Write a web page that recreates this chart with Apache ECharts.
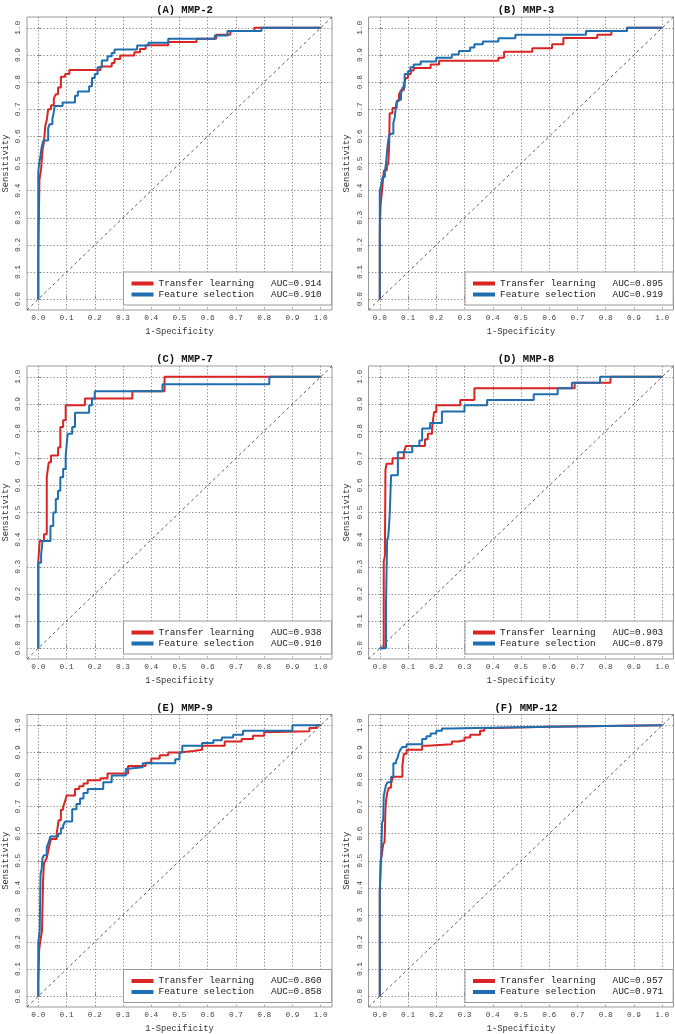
<!DOCTYPE html>
<html><head><meta charset="utf-8">
<script src="https://cdn.jsdelivr.net/npm/echarts@6/dist/echarts.min.js"></script>
<style>html,body{margin:0;padding:0;background:#fff}#c{width:675px;height:1034px}</style>
</head><body><div id="c"></div>
<script>
// ---------------- data ----------------
const panelTitles = ['(A) MMP-2', '(B) MMP-3', '(C) MMP-7', '(D) MMP-8', '(E) MMP-9', '(F) MMP-12'];
const seriesNames = ['Transfer learning', 'Feature selection'];
const aucTransfer = ['0.914', '0.895', '0.938', '0.903', '0.860', '0.957'];
const aucFeature  = ['0.910', '0.919', '0.910', '0.879', '0.858', '0.971'];
const tickValues = [0, 0.1, 0.2, 0.3, 0.4, 0.5, 0.6, 0.7, 0.8, 0.9, 1.0];
const tickLabels = ['0.0', '0.1', '0.2', '0.3', '0.4', '0.5', '0.6', '0.7', '0.8', '0.9', '1.0'];
const axisRange = [-0.04, 1.04];
const xAxisTitle = '1-Specificity';
const yAxisTitle = 'Sensitivity';

// ROC curves: [1-specificity, sensitivity]
const rocTransferA = [[0,0],[0,0.17],[0.004,0.17],[0.004,0.44],[0.01,0.44],[0.01,0.48],[0.015,0.48],[0.015,0.55],[0.02,0.55],[0.02,0.58],[0.025,0.58],[0.025,0.64],[0.03,0.64],[0.03,0.66],[0.035,0.66],[0.035,0.7],[0.045,0.7],[0.045,0.715],[0.055,0.715],[0.055,0.74],[0.062,0.74],[0.062,0.755],[0.07,0.755],[0.07,0.78],[0.08,0.78],[0.08,0.82],[0.095,0.82],[0.095,0.83],[0.11,0.83],[0.11,0.845],[0.22,0.845],[0.22,0.858],[0.26,0.858],[0.26,0.87],[0.27,0.87],[0.27,0.885],[0.29,0.885],[0.29,0.898],[0.34,0.898],[0.34,0.91],[0.36,0.91],[0.36,0.922],[0.38,0.922],[0.38,0.936],[0.46,0.936],[0.46,0.948],[0.56,0.948],[0.56,0.96],[0.63,0.96],[0.63,0.975],[0.68,0.975],[0.68,0.988],[0.765,0.988],[0.765,1],[1,1]];
const rocFeatureA = [[0,0],[0,0.47],[0.003,0.47],[0.003,0.5],[0.008,0.5],[0.008,0.53],[0.012,0.53],[0.012,0.56],[0.018,0.56],[0.018,0.585],[0.035,0.585],[0.035,0.63],[0.04,0.63],[0.04,0.645],[0.05,0.645],[0.05,0.665],[0.055,0.665],[0.055,0.69],[0.058,0.69],[0.058,0.712],[0.086,0.712],[0.086,0.725],[0.13,0.725],[0.13,0.75],[0.14,0.75],[0.14,0.765],[0.18,0.765],[0.18,0.785],[0.19,0.785],[0.19,0.815],[0.2,0.815],[0.2,0.83],[0.21,0.83],[0.21,0.855],[0.225,0.855],[0.225,0.88],[0.245,0.88],[0.245,0.895],[0.26,0.895],[0.26,0.907],[0.27,0.907],[0.27,0.92],[0.35,0.92],[0.35,0.935],[0.39,0.935],[0.39,0.945],[0.46,0.945],[0.46,0.96],[0.625,0.96],[0.625,0.972],[0.67,0.972],[0.67,0.988],[0.79,0.988],[0.79,1],[1,1]];
const rocTransferB = [[0,0],[0,0.26],[0.003,0.26],[0.003,0.35],[0.008,0.35],[0.008,0.4],[0.012,0.4],[0.012,0.45],[0.015,0.45],[0.015,0.475],[0.025,0.475],[0.025,0.49],[0.03,0.49],[0.03,0.5],[0.033,0.5],[0.033,0.56],[0.035,0.56],[0.035,0.685],[0.045,0.685],[0.045,0.705],[0.06,0.705],[0.06,0.73],[0.068,0.73],[0.068,0.755],[0.075,0.755],[0.075,0.77],[0.085,0.77],[0.085,0.79],[0.092,0.79],[0.092,0.815],[0.1,0.815],[0.1,0.83],[0.11,0.83],[0.11,0.843],[0.12,0.843],[0.12,0.852],[0.18,0.852],[0.18,0.865],[0.21,0.865],[0.21,0.879],[0.42,0.879],[0.42,0.89],[0.44,0.89],[0.44,0.912],[0.54,0.912],[0.54,0.925],[0.61,0.925],[0.61,0.94],[0.65,0.94],[0.65,0.963],[0.77,0.963],[0.77,0.975],[0.82,0.975],[0.82,0.988],[0.875,0.988],[0.875,1],[1,1]];
const rocFeatureB = [[0,0],[0,0.4],[0.005,0.4],[0.005,0.42],[0.01,0.42],[0.01,0.45],[0.018,0.45],[0.018,0.47],[0.022,0.47],[0.022,0.5],[0.027,0.5],[0.027,0.56],[0.032,0.56],[0.032,0.6],[0.038,0.6],[0.038,0.61],[0.048,0.61],[0.048,0.65],[0.053,0.65],[0.053,0.67],[0.058,0.67],[0.058,0.72],[0.065,0.72],[0.065,0.735],[0.075,0.735],[0.075,0.755],[0.08,0.755],[0.08,0.78],[0.088,0.78],[0.088,0.83],[0.1,0.83],[0.1,0.84],[0.108,0.84],[0.108,0.855],[0.12,0.855],[0.12,0.865],[0.145,0.865],[0.145,0.876],[0.2,0.876],[0.2,0.89],[0.255,0.89],[0.255,0.902],[0.28,0.902],[0.28,0.915],[0.32,0.915],[0.32,0.928],[0.335,0.928],[0.335,0.94],[0.365,0.94],[0.365,0.95],[0.42,0.95],[0.42,0.962],[0.48,0.962],[0.48,0.975],[0.73,0.975],[0.73,0.988],[0.875,0.988],[0.875,1],[1,1]];
const rocTransferC = [[0,0],[0,0.32],[0.005,0.32],[0.005,0.395],[0.02,0.395],[0.02,0.42],[0.03,0.42],[0.03,0.63],[0.037,0.63],[0.037,0.685],[0.045,0.685],[0.045,0.71],[0.07,0.71],[0.07,0.74],[0.078,0.74],[0.078,0.815],[0.088,0.815],[0.088,0.84],[0.097,0.84],[0.097,0.895],[0.165,0.895],[0.165,0.92],[0.333,0.92],[0.333,0.947],[0.447,0.947],[0.447,1],[1,1]];
const rocFeatureC = [[0,0],[0,0.315],[0.01,0.315],[0.01,0.345],[0.015,0.345],[0.015,0.395],[0.043,0.395],[0.043,0.45],[0.053,0.45],[0.053,0.5],[0.062,0.5],[0.062,0.55],[0.07,0.55],[0.07,0.58],[0.078,0.58],[0.078,0.63],[0.088,0.63],[0.088,0.66],[0.097,0.66],[0.097,0.71],[0.104,0.71],[0.104,0.79],[0.12,0.79],[0.12,0.815],[0.13,0.815],[0.13,0.868],[0.18,0.868],[0.18,0.895],[0.19,0.895],[0.19,0.92],[0.2,0.92],[0.2,0.947],[0.44,0.947],[0.44,0.973],[0.818,0.973],[0.818,1],[1,1]];
const rocTransferD = [[0,0],[0.014,0],[0.014,0.32],[0.018,0.32],[0.018,0.34],[0.02,0.34],[0.02,0.655],[0.024,0.655],[0.024,0.68],[0.045,0.68],[0.045,0.7],[0.085,0.7],[0.085,0.72],[0.092,0.72],[0.092,0.745],[0.16,0.745],[0.16,0.77],[0.17,0.77],[0.17,0.79],[0.185,0.79],[0.185,0.81],[0.192,0.81],[0.192,0.87],[0.2,0.87],[0.2,0.895],[0.285,0.895],[0.285,0.915],[0.335,0.915],[0.335,0.958],[0.69,0.958],[0.69,0.978],[0.817,0.978],[0.817,1],[1,1]];
const rocFeatureD = [[0,0],[0.022,0],[0.022,0.17],[0.026,0.17],[0.026,0.4],[0.03,0.4],[0.03,0.41],[0.035,0.41],[0.035,0.49],[0.04,0.49],[0.04,0.637],[0.064,0.637],[0.064,0.722],[0.115,0.722],[0.115,0.745],[0.14,0.745],[0.14,0.765],[0.15,0.765],[0.15,0.81],[0.178,0.81],[0.178,0.83],[0.22,0.83],[0.22,0.872],[0.3,0.872],[0.3,0.895],[0.38,0.895],[0.38,0.915],[0.545,0.915],[0.545,0.936],[0.63,0.936],[0.63,0.958],[0.68,0.958],[0.68,0.978],[0.78,0.978],[0.78,1],[1,1]];
const rocTransferE = [[0,0],[0,0.05],[0.003,0.05],[0.003,0.17],[0.008,0.17],[0.008,0.21],[0.013,0.21],[0.013,0.24],[0.017,0.24],[0.017,0.43],[0.02,0.43],[0.02,0.49],[0.025,0.49],[0.025,0.5],[0.03,0.5],[0.03,0.51],[0.035,0.51],[0.035,0.535],[0.04,0.535],[0.04,0.56],[0.045,0.56],[0.045,0.58],[0.065,0.58],[0.065,0.6],[0.072,0.6],[0.072,0.65],[0.08,0.65],[0.08,0.688],[0.088,0.688],[0.088,0.7],[0.095,0.7],[0.095,0.72],[0.1,0.72],[0.1,0.741],[0.13,0.741],[0.13,0.765],[0.145,0.765],[0.145,0.775],[0.16,0.775],[0.16,0.785],[0.175,0.785],[0.175,0.797],[0.22,0.797],[0.22,0.805],[0.245,0.805],[0.245,0.822],[0.318,0.822],[0.318,0.85],[0.38,0.85],[0.38,0.862],[0.4,0.862],[0.4,0.878],[0.43,0.878],[0.43,0.89],[0.46,0.89],[0.46,0.9],[0.5,0.9],[0.5,0.905],[0.55,0.905],[0.55,0.91],[0.58,0.91],[0.58,0.925],[0.66,0.925],[0.66,0.94],[0.72,0.94],[0.72,0.95],[0.76,0.95],[0.76,0.962],[0.8,0.962],[0.8,0.975],[0.84,0.975],[0.84,0.978],[0.96,0.978],[0.96,0.99],[0.985,0.99],[0.985,1],[1,1]];
const rocFeatureE = [[0,0],[0,0.2],[0.005,0.2],[0.005,0.24],[0.008,0.24],[0.008,0.45],[0.012,0.45],[0.012,0.47],[0.015,0.47],[0.015,0.51],[0.02,0.51],[0.02,0.52],[0.03,0.52],[0.03,0.55],[0.037,0.55],[0.037,0.57],[0.043,0.57],[0.043,0.59],[0.07,0.59],[0.07,0.6],[0.08,0.6],[0.08,0.62],[0.088,0.62],[0.088,0.63],[0.095,0.63],[0.095,0.645],[0.12,0.645],[0.12,0.69],[0.135,0.69],[0.135,0.71],[0.148,0.71],[0.148,0.73],[0.16,0.73],[0.16,0.75],[0.175,0.75],[0.175,0.765],[0.23,0.765],[0.23,0.79],[0.26,0.79],[0.26,0.815],[0.31,0.815],[0.31,0.84],[0.318,0.84],[0.318,0.845],[0.37,0.845],[0.37,0.86],[0.485,0.86],[0.485,0.875],[0.5,0.875],[0.5,0.9],[0.51,0.9],[0.51,0.925],[0.58,0.925],[0.58,0.935],[0.62,0.935],[0.62,0.945],[0.65,0.945],[0.65,0.955],[0.69,0.955],[0.69,0.965],[0.725,0.965],[0.725,0.98],[0.9,0.98],[0.9,1],[1,1]];
const rocTransferF = [[0,0],[0,0.39],[0.004,0.39],[0.004,0.5],[0.008,0.5],[0.008,0.53],[0.012,0.53],[0.012,0.56],[0.017,0.56],[0.017,0.57],[0.02,0.57],[0.02,0.69],[0.022,0.69],[0.022,0.72],[0.026,0.72],[0.026,0.75],[0.032,0.75],[0.032,0.77],[0.04,0.77],[0.04,0.785],[0.047,0.785],[0.047,0.81],[0.08,0.81],[0.08,0.85],[0.085,0.85],[0.085,0.895],[0.095,0.895],[0.095,0.91],[0.15,0.91],[0.15,0.925],[0.17,0.925],[0.17,0.93],[0.255,0.93],[0.255,0.94],[0.28,0.94],[0.28,0.945],[0.3,0.945],[0.3,0.955],[0.32,0.955],[0.32,0.965],[0.355,0.965],[0.355,0.98],[0.37,0.98],[0.37,0.99],[0.41,0.99],[0.41,0.995],[0.6,0.995],[0.6,1],[1,1]];
const rocFeatureF = [[0,0],[0,0.38],[0.003,0.38],[0.003,0.5],[0.005,0.5],[0.005,0.52],[0.008,0.52],[0.008,0.64],[0.012,0.64],[0.012,0.65],[0.014,0.65],[0.014,0.74],[0.018,0.74],[0.018,0.76],[0.022,0.76],[0.022,0.78],[0.028,0.78],[0.028,0.79],[0.04,0.79],[0.04,0.81],[0.048,0.81],[0.048,0.86],[0.058,0.86],[0.058,0.87],[0.063,0.87],[0.063,0.88],[0.068,0.88],[0.068,0.9],[0.073,0.9],[0.073,0.91],[0.08,0.91],[0.08,0.92],[0.095,0.92],[0.095,0.93],[0.15,0.93],[0.15,0.95],[0.165,0.95],[0.165,0.96],[0.18,0.96],[0.18,0.97],[0.2,0.97],[0.2,0.98],[0.22,0.98],[0.22,0.988],[0.25,0.988],[0.25,0.99],[0.34,0.99],[0.34,0.995],[0.6,0.995],[0.6,1],[1,1]];

const rocTransfer = [rocTransferA, rocTransferB, rocTransferC, rocTransferD, rocTransferE, rocTransferF];
const rocFeature  = [rocFeatureA, rocFeatureB, rocFeatureC, rocFeatureD, rocFeatureE, rocFeatureF];

// ---------------- layout / style ----------------
const COLORS = ['#d92523', '#1f6eb0'];
const MONO = '"Liberation Mono", "DejaVu Sans Mono", monospace';
const colLeft = [27, 368.5];
const rowTop = [17, 366, 714.5];
const GW = 305, GH = 293;

const grids = [], xAxes = [], yAxes = [], series = [], titles = [], legends = [];
const fmt = v => { const i = tickValues.findIndex(t => Math.abs(t - v) < 1e-9); return i >= 0 ? tickLabels[i] : ''; };

for (let p = 0; p < 6; p++) {
  const left = colLeft[p % 2], top = rowTop[Math.floor(p / 2)];
  grids.push({ left: left, top: top, width: GW, height: GH, show: true, borderColor: '#9a9a9a', borderWidth: 1, backgroundColor: 'transparent', containLabel: false });
  const common = {
    gridIndex: p, type: 'value', min: axisRange[0], max: axisRange[1],
    axisLine: { show: false },
    axisTick: { show: true, inside: true, length: 3, customValues: tickValues, lineStyle: { color: '#888' } },
    splitLine: { show: true, lineStyle: { type: [1.3, 2], color: '#8a8a8a', width: 1 } },
    nameLocation: 'middle',
    nameTextStyle: { fontFamily: MONO, fontSize: 8.8, color: '#333' }
  };
  xAxes.push(Object.assign({}, common, {
    name: xAxisTitle, nameGap: 17,
    axisLabel: { customValues: tickValues, formatter: fmt, fontFamily: MONO, fontSize: 7.8, color: '#444', margin: 4 }
  }));
  yAxes.push(Object.assign({}, common, {
    name: yAxisTitle, nameGap: 17,
    axisLabel: { customValues: tickValues, formatter: fmt, fontFamily: MONO, fontSize: 7.8, color: '#444', margin: 5, rotate: 90 }
  }));
  titles.push({
    text: panelTitles[p], left: left + GW / 2, top: top - 17, textAlign: 'center',
    textStyle: { fontFamily: MONO, fontWeight: 'bold', fontSize: 10.5, color: '#111' }
  });
  series.push({
    type: 'line', xAxisIndex: p, yAxisIndex: p, name: 'diag', silent: true, symbol: 'none',
    data: [[axisRange[0], axisRange[0]], [axisRange[1], axisRange[1]]],
    lineStyle: { color: '#333', width: 0.8, type: [3, 3] }, z: 2
  });
  series.push({
    type: 'line', xAxisIndex: p, yAxisIndex: p, name: seriesNames[0], symbol: 'none',
    data: rocTransfer[p], lineStyle: { color: COLORS[0], width: 2 }, itemStyle: { color: COLORS[0] }, z: 3
  });
  series.push({
    type: 'line', xAxisIndex: p, yAxisIndex: p, name: seriesNames[1], symbol: 'none',
    data: rocFeature[p], lineStyle: { color: COLORS[1], width: 2 }, itemStyle: { color: COLORS[1] }, z: 4
  });
  const aucs = [aucTransfer[p], aucFeature[p]];
  legends.push({
    data: seriesNames, orient: 'vertical', left: left + 96.5, top: top + 255,
    itemWidth: 22, itemHeight: 4, itemGap: 0, icon: 'rect',
    padding: [6, 10, 5, 8], borderColor: '#9a9a9a', borderWidth: 1, backgroundColor: '#fff',
    selectedMode: false, z: 10,
    formatter: name => name + '   AUC=' + aucs[seriesNames.indexOf(name)],
    textStyle: { fontFamily: MONO, fontSize: 9.4, color: '#222', lineHeight: 11 }
  });
}

const chart = echarts.init(document.getElementById('c'), null, { renderer: 'canvas' });
chart.setOption({
  animation: false,
  backgroundColor: '#fff',
  title: titles, grid: grids, xAxis: xAxes, yAxis: yAxes, legend: legends, series: series
});
</script></body></html>
